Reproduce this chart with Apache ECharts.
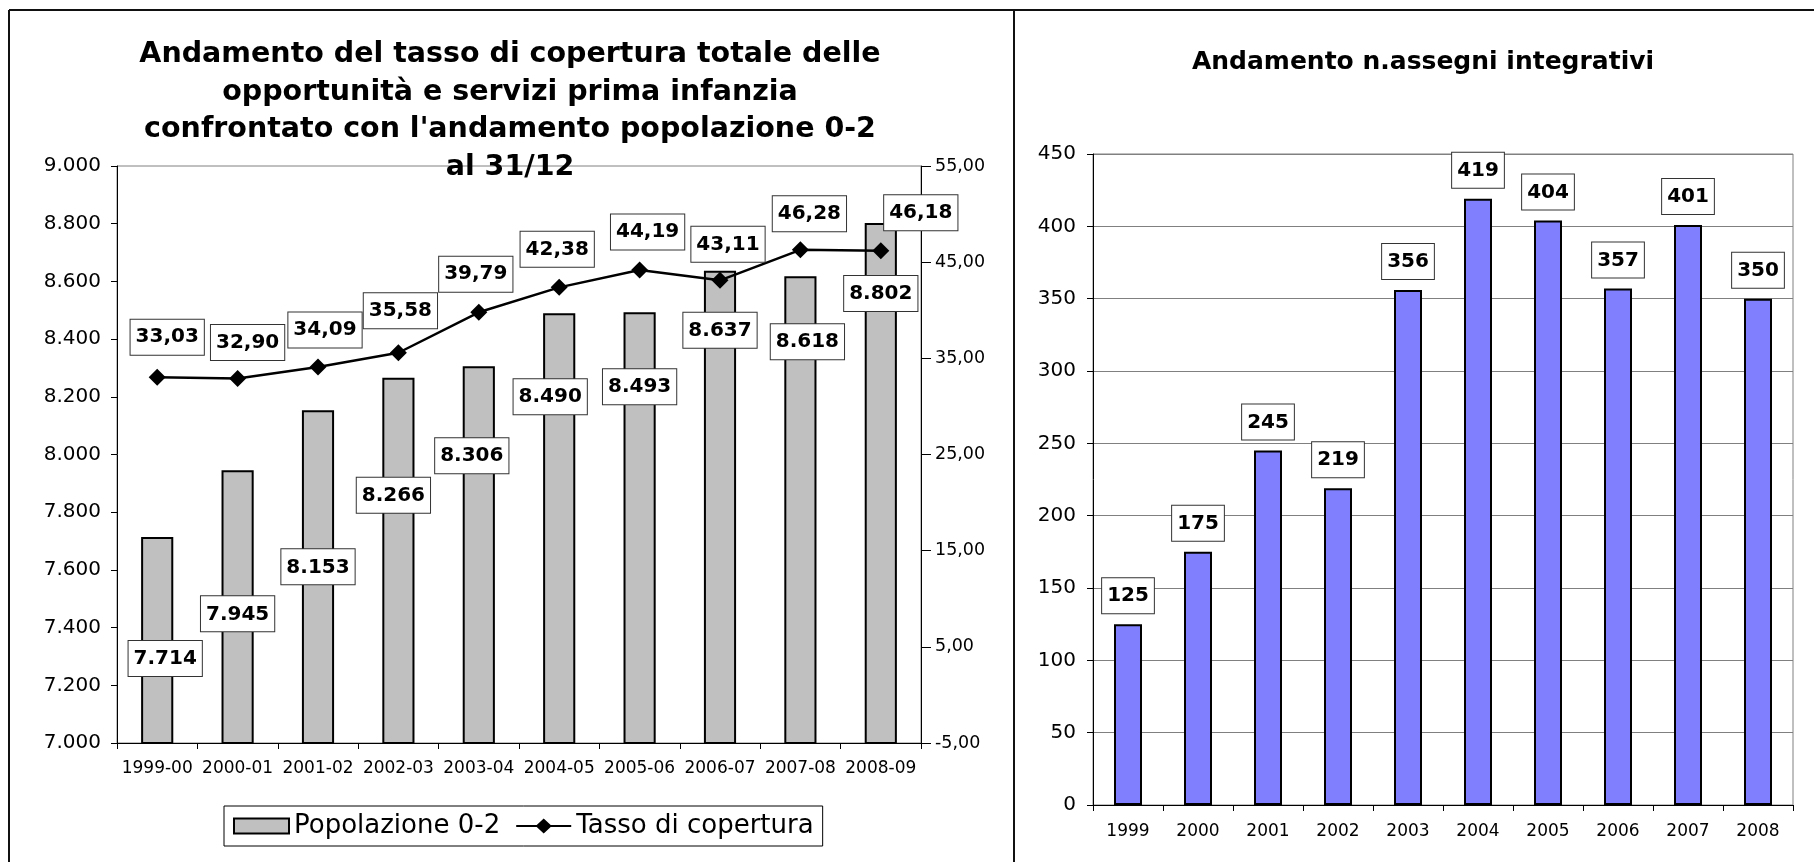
<!DOCTYPE html>
<html>
<head>
<meta charset="utf-8">
<title>Andamento copertura e assegni</title>
<script src="https://cdn.jsdelivr.net/npm/echarts@6.0.0/dist/echarts.min.js"></script>
<style>
  html, body { margin: 0; padding: 0; background: #fff; }
  #chart { width: 1814px; height: 862px; }
</style>
</head>
<body>
<div id="chart"></div>
<script>
// dati grafico sinistro
const anniScolastici = ['1999-00', '2000-01', '2001-02', '2002-03', '2003-04', '2004-05', '2005-06', '2006-07', '2007-08', '2008-09']
const popolazione = [7714, 7945, 8153, 8266, 8306, 8490, 8493, 8637, 8618, 8802]
const tassoCopertura = [33.03, 32.90, 34.09, 35.58, 39.79, 42.38, 44.19, 43.11, 46.28, 46.18]

// dati grafico destro
const anni = ['1999', '2000', '2001', '2002', '2003', '2004', '2005', '2006', '2007', '2008']
const assegni = [125, 175, 245, 219, 356, 419, 404, 357, 401, 350]

// spostamento etichette come nel foglio originale
const popLabelOffset = [[8, 104], [0, 126], [0, 139], [-5, 100], [-7, 72], [-9, 66], [0, 57], [0, 42], [7, 48], [0, 53]]
const tassoLabelOffset = [[10, -40], [10, -36], [7, -37], [2, -42], [-3, -38], [-2, -38], [8, -38], [8, -36], [9, -36], [40, -38]]

const FONT = 'DejaVu Sans'

// icona legenda: linea con rombo al centro
const ICONA_LINEA = 'path://M0,6.5H20.5L27.5,0L34.5,6.5H55V8.5H34.5L27.5,15L20.5,8.5H0Z'

function migliaia (v) {
  return String(Math.round(v)).replace(/\B(?=(\d{3})+(?!\d))/g, '.')
}

function decimali (v) {
  return Number(v).toFixed(2).replace('.', ',')
}

const boxLabel = {
  show: true,
  color: '#000',
  fontFamily: FONT,
  fontWeight: 'bold',
  fontSize: 20,
  lineHeight: 22,
  backgroundColor: '#fff',
  borderColor: '#333',
  borderWidth: 1,
  padding: [7, 5, 6, 5]
}

const axisText = (size) => ({ color: '#000', fontFamily: FONT, fontSize: size })
const blackLine = { show: true, onZero: false, lineStyle: { color: '#000', width: 1 } }

const chart = echarts.init(document.getElementById('chart'))

const option = {
  animation: false,
  backgroundColor: '#fff',
  textStyle: { fontFamily: FONT },
  title: [
    {
      text: 'Andamento del tasso di copertura totale delle\nopportunità e servizi prima infanzia\nconfrontato con l\'andamento popolazione 0-2\nal 31/12',
      left: 510,
      top: 36,
      padding: 0,
      textAlign: 'center',
      textStyle: { color: '#000', fontFamily: FONT, fontWeight: 'bold', fontSize: 28.5, lineHeight: 37.5 }
    },
    {
      text: 'Andamento n.assegni integrativi',
      left: 1423,
      top: 47,
      padding: 0,
      textAlign: 'center',
      textStyle: { color: '#000', fontFamily: FONT, fontWeight: 'bold', fontSize: 25, lineHeight: 30 }
    }
  ],
  legend: {
    data: [{ name: 'Popolazione 0-2', icon: 'rect' }, { name: 'Tasso di copertura', icon: ICONA_LINEA }],
    left: 224,
    top: 806,
    padding: [5, 9, 5, 9],
    itemWidth: 55,
    itemHeight: 15,
    itemGap: 16,
    borderColor: '#000',
    borderWidth: 1,
    textStyle: { color: '#000', fontFamily: FONT, fontSize: 26, lineHeight: 30 }
  },
  grid: [
    { left: 117, top: 166, right: 893, bottom: 119, show: true, borderColor: '#808080', borderWidth: 1 },
    { left: 1093, top: 154, right: 21, bottom: 57, show: true, borderColor: '#808080', borderWidth: 1 }
  ],
  xAxis: [
    {
      type: 'category',
      gridIndex: 0,
      data: anniScolastici,
      axisLine: blackLine,
      axisTick: { show: true, length: 6, lineStyle: { color: '#000' } },
      axisLabel: { ...axisText(17), interval: 0, margin: 17 }
    },
    {
      type: 'category',
      gridIndex: 1,
      data: anni,
      axisLine: blackLine,
      axisTick: { show: true, length: 6, lineStyle: { color: '#000' } },
      axisLabel: { ...axisText(17), interval: 0, margin: 18 }
    }
  ],
  yAxis: [
    {
      type: 'value',
      gridIndex: 0,
      min: 7000,
      max: 9000,
      interval: 200,
      axisLine: blackLine,
      axisTick: { show: true, length: 6, lineStyle: { color: '#000' } },
      splitLine: { show: false },
      axisLabel: { ...axisText(20), margin: 16, formatter: migliaia }
    },
    {
      type: 'value',
      gridIndex: 0,
      position: 'right',
      min: -5,
      max: 55,
      interval: 10,
      axisLine: blackLine,
      axisTick: { show: true, length: 10, lineStyle: { color: '#000' } },
      splitLine: { show: false },
      axisLabel: { ...axisText(17.5), margin: 14, formatter: decimali }
    },
    {
      type: 'value',
      gridIndex: 1,
      min: 0,
      max: 450,
      interval: 50,
      axisLine: blackLine,
      axisTick: { show: true, length: 6, lineStyle: { color: '#000' } },
      splitLine: { show: true, lineStyle: { color: '#808080', width: 1 } },
      axisLabel: { ...axisText(20), margin: 17 }
    }
  ],
  series: [
    {
      name: 'Popolazione 0-2',
      type: 'bar',
      xAxisIndex: 0,
      yAxisIndex: 0,
      barWidth: '40%',
      itemStyle: { color: '#C0C0C0', borderColor: '#000', borderWidth: 2 },
      label: { ...boxLabel, position: 'insideTop', distance: 0, formatter: p => migliaia(p.value) },
      data: popolazione.map((v, i) => ({ value: v, label: { offset: popLabelOffset[i] } })),
      z: 2
    },
    {
      name: 'Tasso di copertura',
      type: 'line',
      xAxisIndex: 0,
      yAxisIndex: 1,
      symbol: 'diamond',
      symbolSize: 17,
      itemStyle: { color: '#000' },
      lineStyle: { color: '#000', width: 2.5 },
      label: { ...boxLabel, position: 'inside', formatter: p => decimali(p.value) },
      data: tassoCopertura.map((v, i) => ({ value: v, label: { offset: tassoLabelOffset[i] } })),
      z: 3
    },
    {
      name: 'Assegni integrativi',
      type: 'bar',
      xAxisIndex: 1,
      yAxisIndex: 2,
      barWidth: '40%',
      itemStyle: { color: '#8080FF', borderColor: '#000', borderWidth: 2 },
      label: { ...boxLabel, position: 'top', distance: 11 },
      data: assegni
    }
  ],
  graphic: [
    { type: 'line', shape: { x1: 9, y1: 10, x2: 1814, y2: 10 }, style: { stroke: '#111', lineWidth: 2 } },
    { type: 'line', shape: { x1: 9, y1: 10, x2: 9, y2: 862 }, style: { stroke: '#111', lineWidth: 2 } },
    { type: 'line', shape: { x1: 1014, y1: 10, x2: 1014, y2: 862 }, style: { stroke: '#111', lineWidth: 2 } }
  ]
}

chart.setOption(option)
</script>
</body>
</html>
